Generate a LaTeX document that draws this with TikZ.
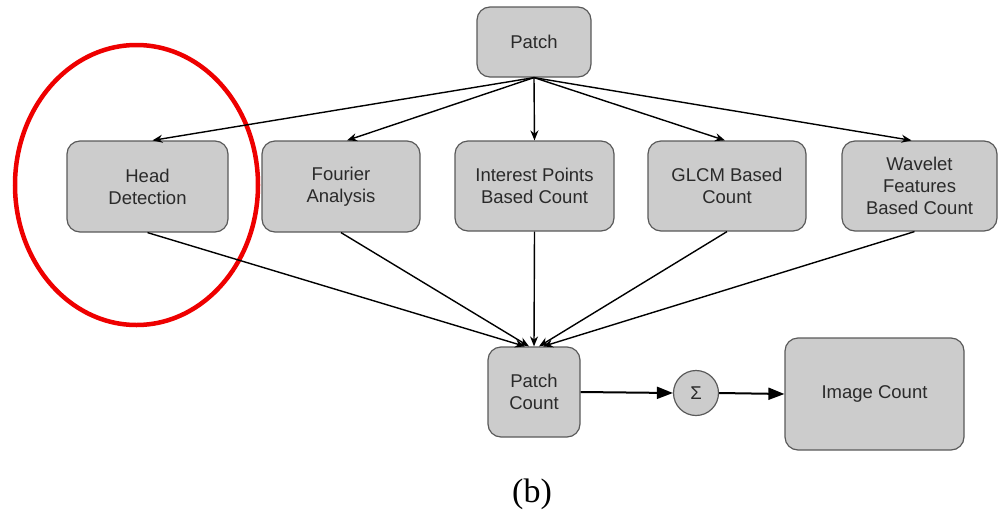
\documentclass[tikz,border=0pt]{standalone}
\usepackage{fontspec}
\setmainfont{Liberation Sans}
\newfontfamily\seriffont{Liberation Serif}
\usetikzlibrary{arrows.meta,calc,shapes.geometric}
\definecolor{boxfill}{HTML}{CCCCCC}
\definecolor{boxline}{HTML}{5A5A5A}
\definecolor{txt}{HTML}{2A2A2A}
\definecolor{ringred}{HTML}{EE0000}
\begin{document}
\begin{tikzpicture}[x=1pt,y=-1pt,
  procbox/.style={draw=boxline, line width=1.2pt, fill=boxfill, rounded corners=13pt,
    align=center, text=txt, font=\fontsize{18.5}{22}\selectfont, inner sep=0pt},
  conn/.style={-{Stealth[length=10pt,width=8pt]}, line width=1.4pt, black},
  bigconn/.style={-{Triangle[length=16pt,width=12pt]}, line width=2pt, black}]
\useasboundingbox (0,0) rectangle (999,517);
\node[procbox, minimum width=114pt, minimum height=70pt] (patch) at (534,42) {Patch};
\node[procbox, minimum width=161pt, minimum height=91pt] (head) at (147.5,186.5) {Head\\Detection};
\node[procbox, minimum width=158pt, minimum height=91pt] (fourier) at (341,186.5) {Fourier\\Analysis};
\node[procbox, minimum width=159pt, minimum height=90pt] (interest) at (534.5,186) {Interest Points\\Based Count};
\node[procbox, minimum width=158pt, minimum height=90pt] (glcm) at (727,186) {GLCM Based\\Count};
\node[procbox, minimum width=155pt, minimum height=90pt] (wavelet) at (919.5,186) {Wavelet\\Features\\Based Count};
\node[procbox, minimum width=92pt, minimum height=90pt] (pcount) at (534,392) {Patch\\Count};
\node[draw=boxline, line width=1.2pt, fill=boxfill, circle, minimum size=45pt, inner sep=0pt,
  text=txt, font=\fontsize{18.5}{22}\selectfont] (sigma) at (696,393) {Σ};
\node[procbox, minimum width=179pt, minimum height=112pt] (imgcount) at (874.5,394) {Image Count};
\node[draw=ringred, line width=4.5pt, ellipse, minimum width=243pt, minimum height=280pt, inner sep=0pt] (ring) at (136.5,185) {};
\node[font=\seriffont\fontsize{34}{40}\selectfont] (label) at (532,494) {(b)};

\draw[conn] (patch.south) -- ($(head.north)+(5,0)$);
\draw[conn] (patch.south) -- ($(fourier.north)+(6,0)$);
\draw[conn] (patch.south) -- (interest.north);
\draw[conn] (patch.south) -- ($(glcm.north)+(-2,0)$);
\draw[conn] (patch.south) -- ($(wavelet.north)+(-8,0)$);

\draw[conn] (head.south) -- ($(pcount.north)+(-9,0)$);
\draw[conn] (fourier.south) -- ($(pcount.north)+(-5,0)$);
\draw[conn] (interest.south) -- (pcount.north);
\draw[conn] (glcm.south) -- ($(pcount.north)+(5,0)$);
\draw[conn] ($(wavelet.south)+(-5,0)$) -- ($(pcount.north)+(9,0)$);

\draw[bigconn] (pcount.east) -- (sigma.west);
\draw[bigconn] (sigma.east) -- (imgcount.west);
\end{tikzpicture}
\end{document}
